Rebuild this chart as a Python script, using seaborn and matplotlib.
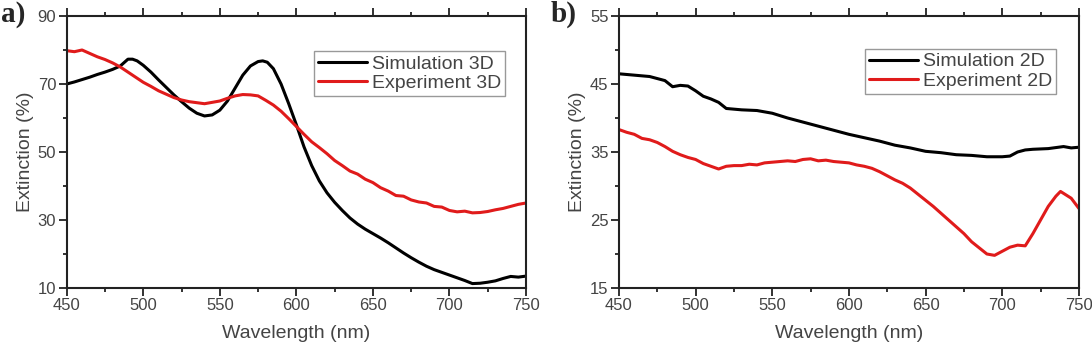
import pandas as pd
import seaborn as sns
import matplotlib.pyplot as plt
from matplotlib.ticker import MultipleLocator

# Panel a (3D) data
wl_sim3d = [450, 455, 460, 465, 470, 475, 480, 485, 488, 490, 493, 496, 500, 505, 510, 515,
            520, 525, 530, 535, 540, 545, 550, 555, 560, 565, 570, 575, 578, 581, 585, 590,
            595, 600, 605, 610, 615, 620, 625, 630, 635, 640, 645, 650, 655, 660, 665, 670,
            675, 680, 685, 690, 695, 700, 705, 710, 715, 720, 725, 730, 735, 740, 745, 750]
sim3d = [70.0, 70.6, 71.3, 72.0, 72.8, 73.5, 74.3, 75.3, 76.5, 77.3, 77.3, 76.8, 75.5, 73.5,
         71.2, 69.0, 66.8, 64.8, 62.9, 61.4, 60.6, 60.9, 62.3, 65.0, 68.8, 72.6, 75.3, 76.6,
         76.8, 76.4, 74.5, 70.0, 64.2, 58.0, 51.5, 46.0, 41.5, 38.0, 35.2, 32.8, 30.6, 28.8,
         27.3, 26.0, 24.7, 23.3, 21.8, 20.3, 18.9, 17.6, 16.4, 15.4, 14.6, 13.8, 13.0, 12.2,
         11.3, 11.4, 11.7, 12.1, 12.8, 13.4, 13.2, 13.5]

wl_exp3d = [450, 455, 460, 465, 470, 475, 480, 485, 490, 495, 500, 505, 510, 515, 520, 525,
            530, 535, 540, 545, 550, 555, 560, 565, 570, 575, 580, 585, 590, 595, 600, 605,
            610, 615, 620, 625, 630, 635, 640, 645, 650, 655, 660, 665, 670, 675, 680, 685,
            690, 695, 700, 705, 710, 715, 720, 725, 730, 735, 740, 745, 750]
exp3d = [79.8, 79.5, 80.0, 79.0, 78.0, 77.2, 76.2, 75.0, 73.5, 72.0, 70.5, 69.3, 68.0, 67.0,
         66.0, 65.3, 64.8, 64.5, 64.2, 64.6, 65.0, 65.8, 66.5, 66.9, 66.8, 66.5, 65.2, 63.8,
         62.0, 59.8, 57.5, 55.2, 53.0, 51.3, 49.5, 47.5, 46.0, 44.4, 43.5, 42.0, 41.0, 39.5,
         38.5, 37.2, 37.0, 35.9, 35.3, 35.0, 34.0, 33.8, 32.8, 32.4, 32.6, 32.1, 32.2, 32.5,
         33.0, 33.4, 34.0, 34.6, 35.0]

# Panel b (2D) data
wl_sim2d = [450, 460, 470, 480, 485, 490, 495, 500, 505, 510, 515, 520, 530, 540, 550, 560,
            570, 580, 590, 600, 610, 620, 630, 640, 650, 660, 670, 680, 690, 700, 705, 710,
            715, 720, 730, 740, 745, 750]
sim2d = [46.5, 46.3, 46.1, 45.5, 44.6, 44.8, 44.7, 44.0, 43.2, 42.8, 42.3, 41.4, 41.2, 41.1,
         40.7, 40.0, 39.4, 38.8, 38.2, 37.6, 37.1, 36.6, 36.0, 35.6, 35.1, 34.9, 34.6, 34.5,
         34.3, 34.3, 34.4, 35.0, 35.3, 35.4, 35.5, 35.8, 35.6, 35.7]

wl_exp2d = [450, 455, 460, 465, 470, 475, 480, 485, 490, 495, 500, 505, 510, 515, 520, 525,
            530, 535, 540, 545, 550, 555, 560, 565, 570, 575, 580, 585, 590, 595, 600, 605,
            610, 615, 620, 625, 630, 635, 640, 645, 650, 655, 660, 665, 670, 675, 680, 685,
            690, 695, 700, 705, 710, 715, 720, 725, 730, 735, 738, 745, 750]
exp2d = [38.3, 37.9, 37.6, 37.0, 36.8, 36.4, 35.8, 35.1, 34.6, 34.2, 33.9, 33.3, 32.9, 32.5,
         32.9, 33.0, 33.0, 33.2, 33.1, 33.4, 33.5, 33.6, 33.7, 33.6, 33.9, 34.0, 33.7, 33.8,
         33.6, 33.5, 33.4, 33.1, 32.9, 32.6, 32.1, 31.5, 30.9, 30.4, 29.7, 28.8, 27.9, 27.0,
         26.0, 25.0, 24.0, 23.0, 21.8, 20.9, 20.0, 19.8, 20.4, 21.0, 21.3, 21.2, 23.0, 25.0,
         27.0, 28.5, 29.2, 28.2, 26.7]

sns.set_style("ticks")
plt.rcParams["font.family"] = ["Liberation Sans", "DejaVu Sans"]

fig = plt.figure(figsize=(10.92, 3.44), dpi=100)
ax_a = fig.add_axes([0.0611, 0.1628, 0.4206, 0.7907])
ax_b = fig.add_axes([0.5668, 0.1628, 0.4212, 0.7907])

gray = "#444444"
panels = [
    (ax_a, wl_sim3d, sim3d, wl_exp3d, exp3d, "3D", (10, 90), 20, 10, (0.954, 0.871)),
    (ax_b, wl_sim2d, sim2d, wl_exp2d, exp2d, "2D", (15, 55), 10, 5, (0.950, 0.879)),
]

for ax, wx, ys, we, ye, tag, ylim, ymaj, ymin, anchor in panels:
    sim = pd.DataFrame({"wl": wx, "ext": ys})
    exp = pd.DataFrame({"wl": we, "ext": ye})
    sns.lineplot(data=sim, x="wl", y="ext", ax=ax, color="black", linewidth=2.2,
                 label="Simulation " + tag)
    sns.lineplot(data=exp, x="wl", y="ext", ax=ax, color="#e01b1b", linewidth=2.2,
                 label="Experiment " + tag)

    ax.set_xlim(450, 750)
    ax.set_ylim(*ylim)
    ax.xaxis.set_major_locator(MultipleLocator(50))
    ax.xaxis.set_minor_locator(MultipleLocator(25))
    ax.set_yticks(range(ylim[0], ylim[1] + 1, ymaj))
    ax.yaxis.set_minor_locator(MultipleLocator(ymin))
    ax.tick_params(which="both", direction="out", top=True, right=False,
                   labelsize=12, labelcolor=gray, color="#222222", width=1.3, pad=2)
    ax.tick_params(which="major", length=5.5)
    ax.tick_params(which="minor", length=3)
    for sp in ax.spines.values():
        sp.set_visible(True)
        sp.set_linewidth(1.5)
        sp.set_color("#222222")

    ax.set_xlabel("Wavelength (nm)", fontsize=14, color=gray, labelpad=8)
    ax.set_ylabel("Extinction (%)", fontsize=14, color=gray, labelpad=3)

    leg = ax.legend(loc="upper right", bbox_to_anchor=anchor, borderaxespad=0,
                    fancybox=False, edgecolor="#999999", framealpha=1,
                    fontsize=14, handlelength=2.5, handletextpad=0.25,
                    borderpad=0.2, labelspacing=0.1)
    for t in leg.get_texts():
        t.set_color(gray)
    leg.get_frame().set_linewidth(1.0)

fig.text(0.001, 0.998, "a)", fontsize=21, fontweight="bold", va="top", ha="left",
         family=["Liberation Serif", "DejaVu Serif"])
fig.text(0.504, 0.998, "b)", fontsize=21, fontweight="bold", va="top", ha="left",
         family=["Liberation Serif", "DejaVu Serif"])

fig.savefig("out.png", dpi=100)
